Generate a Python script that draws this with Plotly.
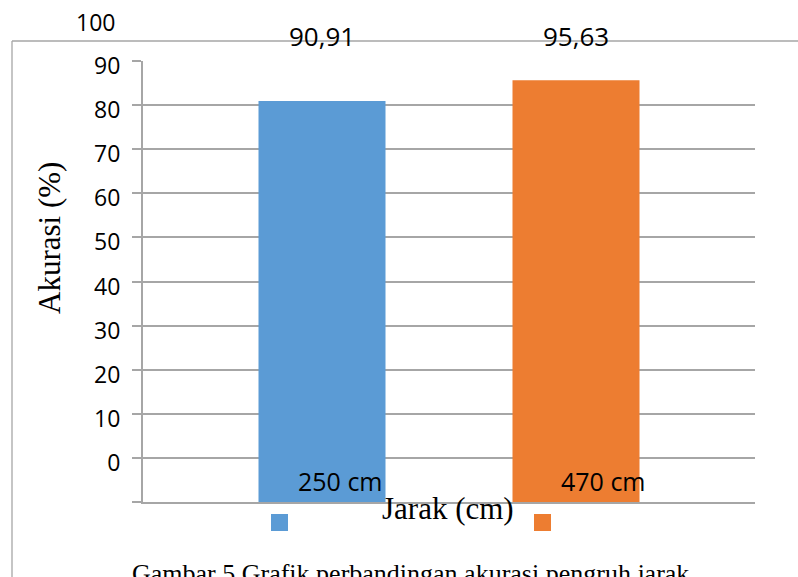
import plotly.graph_objects as go

# Accuracy per distance
series = ["250 cm", "470 cm"]
values = [90.91, 95.63]
colors = ["#5B9BD5", "#ED7D31"]

# Axis ticks (labels sit one grid step above their gridline)
tick_vals = [0, 10, 20, 30, 40, 50, 60, 70, 80, 90, 100]
tick_labels = ["0", "10", "20", "30", "40", "50", "60", "70", "80", "90", "100"]

W, H = 798, 577
L, R, T, B = 143, 43, 61, 75
pw, ph = W - L - R, H - T - B


def px_x(x):
    return (x - L) / pw


def px_y(y):
    return (H - B - y) / ph


GRID = "#A6A6A6"
TICK_FONT = dict(family="Open Sans", size=23, color="black")

fig = go.Figure()
for name, val, col in zip(series, values, colors):
    fig.add_trace(go.Bar(x=[name], y=[val], name=name, marker_color=col,
                         marker_line_width=0, showlegend=False))

annotations = []
# value labels above the plot
for name, val in zip(series, values):
    annotations.append(dict(
        x=name, xref="x", y=px_y(36), yref="paper",
        text=f"{val:.2f}".replace(".", ","), showarrow=False,
        font=dict(family="Open Sans", size=26, color="black"),
        xanchor="center", yanchor="middle"))

# top tick label, one step above the axis range
annotations.append(dict(
    x=px_x(117), xref="paper", y=px_y(22), yref="paper",
    text=tick_labels[-1], showarrow=False, xanchor="right", yanchor="middle",
    font=TICK_FONT))

# legend entries
sw_left = [271, 534]
for name, col, sx in zip(series, colors, sw_left):
    annotations.append(dict(
        x=px_x(sx + 25), xref="paper", y=px_y(481), yref="paper",
        text=name, showarrow=False, xanchor="left", yanchor="middle",
        font=dict(family="Open Sans", size=25, color="black")))

# axis titles
annotations.append(dict(
    x=px_x(49), xref="paper", y=px_y(238), yref="paper",
    text="Akurasi (%)", textangle=-90, showarrow=False,
    xanchor="center", yanchor="middle",
    font=dict(family="Liberation Serif", size=31, color="black")))
annotations.append(dict(
    x=px_x(448), xref="paper", y=px_y(508), yref="paper",
    text="Jarak (cm)", showarrow=False, xanchor="center", yanchor="middle",
    font=dict(family="Liberation Serif", size=31, color="black")))

# figure caption
annotations.append(dict(
    x=px_x(410), xref="paper", y=px_y(573), yref="paper",
    text="Gambar 5 Grafik perbandingan akurasi pengruh jarak", showarrow=False,
    xanchor="center", yanchor="middle",
    font=dict(family="Liberation Serif", size=26, color="black")))

shapes = []
# legend swatches
for col, sx in zip(colors, sw_left):
    shapes.append(dict(type="rect", xref="paper", yref="paper",
                       x0=px_x(sx), x1=px_x(sx + 17), y0=px_y(514), y1=px_y(531),
                       fillcolor=col, line_width=0))
# outer chart frame (left and top edges)
shapes.append(dict(type="line", xref="paper", yref="paper",
                   x0=px_x(12), x1=px_x(12), y0=px_y(41), y1=px_y(H + 5),
                   line=dict(color=GRID, width=1.3)))
shapes.append(dict(type="line", xref="paper", yref="paper",
                   x0=px_x(12), x1=px_x(W + 5), y0=px_y(41), y1=px_y(41),
                   line=dict(color=GRID, width=1.3)))

fig.update_layout(
    width=W, height=H,
    margin=dict(l=L, r=R, t=T, b=B, pad=0),
    paper_bgcolor="white", plot_bgcolor="white",
    bargap=0.5,
    annotations=annotations, shapes=shapes,
    xaxis=dict(type="category", range=[-0.7047, 1.7047],
               showticklabels=False, ticks="", showgrid=False,
               showline=True, linecolor=GRID, linewidth=1.5,
               layer="below traces",
               zeroline=False, fixedrange=True),
    yaxis=dict(range=[0, 100], tickvals=tick_vals,
               ticktext=[""] + tick_labels[:-1],
               ticks="outside", ticklen=9, tickcolor=GRID, tickwidth=1.5,
               ticklabelshift=5, ticklabelstandoff=7,
               showgrid=True, gridcolor=GRID, gridwidth=1.5,
               zeroline=False, showline=True, linecolor=GRID, linewidth=2,
               layer="below traces",
               tickfont=TICK_FONT, fixedrange=True),
)

fig.write_html("out.html")
